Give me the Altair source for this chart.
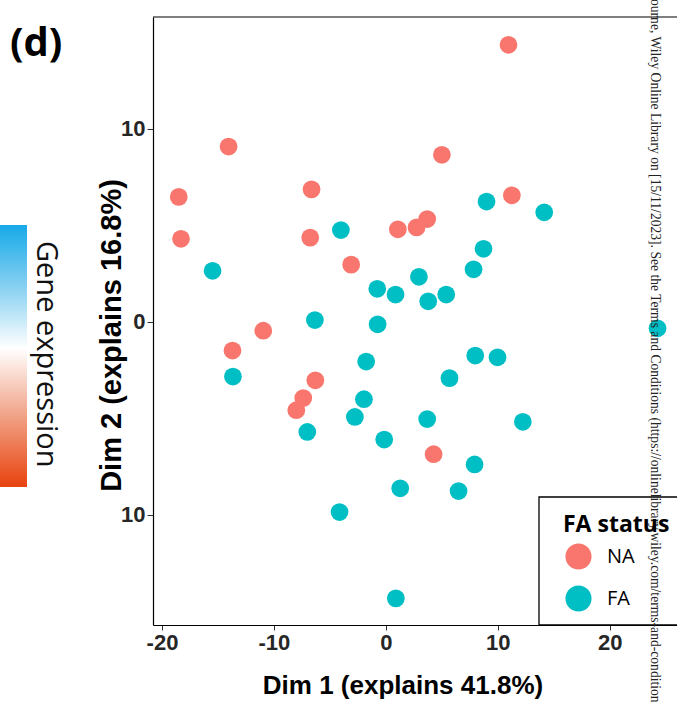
import altair as alt
import pandas as pd

# ---- data ----
na_x = [10.95, -14.05, 5.0, -18.5, -6.64, 11.25, -18.3, -6.76, 1.07, 2.74, 3.69,
        -3.1, -10.95, -13.7, -6.3, -7.38, -8.0, 4.26]
na_y = [14.36, 9.09, 8.66, 6.48, 6.87, 6.56, 4.31, 4.37, 4.8, 4.9, 5.33,
        2.97, -0.45, -1.48, -3.02, -3.94, -4.57, -6.85]

fa_x = [8.99, 14.14, -4.02, -15.48, 8.72, 7.83, 2.95, -0.77, 0.86, 3.78, 5.39,
        -6.34, -0.74, 24.26, -1.76, 7.98, 9.97, -13.66, 5.68, -1.96, -2.77, 3.69,
        -7.02, 12.23, -0.15, 7.92, 1.28, 6.49, -4.14, 0.89]
fa_y = [6.24, 5.68, 4.76, 2.65, 3.79, 2.73, 2.34, 1.72, 1.42, 1.07, 1.42,
        0.10, -0.12, -0.33, -2.05, -1.74, -1.83, -2.83, -2.91, -4.0, -4.92, -5.03,
        -5.70, -5.17, -6.09, -7.38, -8.62, -8.76, -9.85, -14.32]

status_order = ["NA", "FA"]
status_colors = ["#F8766D", "#00BFC4"]
x_ticks = [-20, -10, 0, 10, 20]
y_ticks = [-10, 0, 10]

x_title = "Dim 1 (explains 41.8%)"
y_title = "Dim 2 (explains 16.8%)"
legend_title = "FA status"
panel_label = "(d)"
colorbar_label = "Gene expression"
watermark = ("ourne, Wiley Online Library on [15/11/2023]. See the Terms and Conditions "
             "(https://onlinelibrary.wiley.com/terms-and-condition")

df = pd.DataFrame({
    "Dim1": na_x + fa_x,
    "Dim2": na_y + fa_y,
    "FA status": ["NA"] * len(na_x) + ["FA"] * len(fa_x),
})
dummy = pd.DataFrame({"k": [0]})

W, H = 524, 608

points = alt.Chart(df).mark_circle(size=315, opacity=1).encode(
    x=alt.X("Dim1:Q",
            scale=alt.Scale(domain=[-20.8, 26.0], nice=False, zero=False),
            axis=alt.Axis(values=x_ticks, grid=False, title=x_title,
                          labelExpr="(datum.value < 0 ? '-' : '') + abs(datum.value)",
                          labelFont="Liberation Sans", labelFontSize=22,
                          labelFontWeight="bold", labelColor="#262626",
                          labelPadding=2, tickSize=5, tickColor="#333333",
                          domainColor="black", domainWidth=1.2,
                          titleFont="Liberation Sans", titleFontSize=26,
                          titleFontWeight="bold", titleColor="black",
                          titleX=249.5, titleY=68, titleBaseline="alphabetic",
                          titleAlign="center")),
    y=alt.Y("Dim2:Q",
            scale=alt.Scale(domain=[-15.7, 15.8], nice=False, zero=False),
            axis=alt.Axis(values=y_ticks, grid=False, title=y_title,
                          labelExpr="'' + abs(datum.value)",
                          labelFont="Liberation Sans", labelFontSize=22,
                          labelFontWeight="bold", labelColor="#262626",
                          labelPadding=2, tickSize=6, tickColor="#333333",
                          domainColor="black", domainWidth=1.2,
                          titleFont="Liberation Sans", titleFontSize=29,
                          titleFontWeight="bold", titleColor="black",
                          titleX=-33, titleY=318, titleAngle=270,
                          titleBaseline="alphabetic", titleAlign="center")),
    color=alt.Color("FA status:N",
                    scale=alt.Scale(domain=status_order, range=status_colors),
                    legend=alt.Legend(orient="none", legendX=410, legendY=497,
                                      title=legend_title, titleFont="Open Sans",
                                      titleFontSize=23, titleFontWeight="bold",
                                      titleColor="black", titlePadding=6,
                                      labelFont="Open Sans", labelFontSize=20,
                                      labelColor="black", labelOffset=15,
                                      symbolType="circle", symbolSize=680,
                                      symbolStrokeWidth=0, symbolOpacity=1,
                                      symbolOffset=2, rowPadding=15, padding=0)),
)

legend_box = alt.Chart(dummy).mark_rect(fill="white", stroke="black", strokeWidth=1.3).encode(
    x=alt.value(386), x2=alt.value(540), y=alt.value(480), y2=alt.value(608))

top_border = alt.Chart(dummy).mark_rule(color="black", strokeWidth=1.2).encode(
    x=alt.value(0), x2=alt.value(W), y=alt.value(0))

gradient = alt.Gradient(
    gradient="linear",
    stops=[alt.GradientStop(color="#16A9E8", offset=0),
           alt.GradientStop(color="#8ED3F2", offset=0.25),
           alt.GradientStop(color="#FFFFFF", offset=0.47),
           alt.GradientStop(color="#F1A58A", offset=0.72),
           alt.GradientStop(color="#E8420E", offset=1)],
    x1=0, x2=0, y1=0, y2=1)

colorbar = alt.Chart(dummy).mark_rect(fill=gradient).encode(
    x=alt.value(-153), x2=alt.value(-126), y=alt.value(208), y2=alt.value(470))

colorbar_text = alt.Chart(dummy).mark_text(
    angle=90, align="left", baseline="alphabetic", font="Open Sans",
    fontSize=29, color="#111111").encode(
    x=alt.value(-116.5), y=alt.value(224), text=alt.value(colorbar_label))

panel = alt.Chart(dummy).mark_text(
    align="left", baseline="alphabetic", font="Open Sans", fontWeight="bold",
    fontSize=40, color="black").encode(
    x=alt.value(-143), y=alt.value(39), text=alt.value(panel_label))

wm = alt.Chart(dummy).mark_text(
    angle=90, align="left", baseline="alphabetic", font="Liberation Serif",
    fontSize=13.6, color="#222222").encode(
    x=alt.value(498), y=alt.value(-18), text=alt.value(watermark))

chart = alt.layer(points, legend_box, top_border, colorbar, colorbar_text, panel, wm).properties(
    width=W, height=H,
    autosize=alt.AutoSizeParams(type="none"),
    padding={"left": 153, "top": 17, "right": 0, "bottom": 83},
    background="white",
).configure_view(stroke=None)

chart.save("out.html", embed_options={"renderer": "svg", "actions": False})
